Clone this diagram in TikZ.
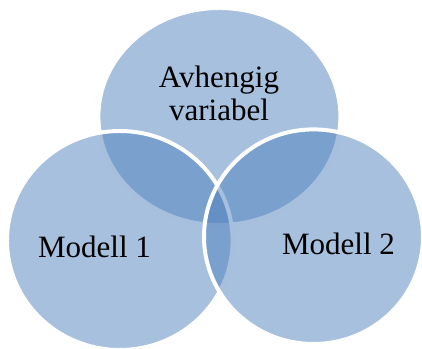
\documentclass[tikz,border=0pt]{standalone}
\usepackage{xcolor}
\usepackage{fontspec}
\setmainfont{Liberation Serif}
\usepackage{tikz}

\definecolor{vennblue}{RGB}{79,129,189}
\tikzset{
    venn/.style={fill=vennblue, fill opacity=0.5, draw=white, line width=3.4pt},
    label/.style={anchor=base, inner sep=0pt, font=\fontsize{26.5}{28}\selectfont}
}

\begin{document}
\begin{tikzpicture}[x=0.03cm, y=0.03cm]
    \useasboundingbox (0,0) rectangle (422,349);
    % Sets
    \path[venn] (219.4,232.5) ellipse [x radius=121, y radius=108.5];
    \path[venn] (119.8,108.5) ellipse [x radius=112.8, y radius=109.5];
    \path[venn] (313.5,112.3) ellipse [x radius=109.5, y radius=107.3];
    % Labels
    \node[label] (avh) at (219,261) {Avhengig};
    \node[label] (var) at (219,228) {variabel};
    \node[label] (mod1) at (94.5,91) {Modell 1};
    \node[label] (mod2) at (338.5,94) {Modell 2};
\end{tikzpicture}
\end{document}
